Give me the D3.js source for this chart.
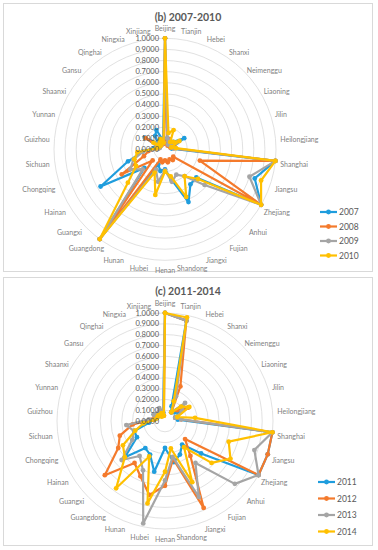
<!DOCTYPE html>
<html>
<head>
<meta charset="utf-8">
<script src="https://cdnjs.cloudflare.com/ajax/libs/d3/7.8.5/d3.min.js"></script>
<style>
  body { margin: 0; background: #fff; }
  svg { font-family: Lato, "Liberation Sans", sans-serif; }
</style>
</head>
<body>
<svg id="chart" width="378" height="550"></svg>
<script>
// ======================================================
// DATA
var provinces = ["Beijing", "Tianjin", "Hebei", "Shanxi", "Neimenggu", "Liaoning", "Jilin",
    "Heilongjiang", "Shanghai", "Jiangsu", "Zhejiang", "Anhui", "Fujian", "Jiangxi", "Shandong",
    "Henan", "Hubei", "Hunan", "Guangdong", "Guangxi", "Hainan", "Chongqing", "Sichuan",
    "Guizhou", "Yunnan", "Shaanxi", "Gansu", "Qinghai", "Ningxia", "Xinjiang"];
var tickValues = [0, 0.1, 0.2, 0.3, 0.4, 0.5, 0.6, 0.7, 0.8, 0.9, 1.0];

var yearsB = ["2007", "2008", "2009", "2010"];
var v2007 = [1.00, 0.10, 0.08, 0.05, 0.10, 0.20, 0.08, 0.06, 1.00, 0.85, 1.00, 0.38, 0.39, 0.52, 0.28,
    0.18, 0.20, 0.15, 1.00, 0.25, 0.67, 0.35, 0.20, 0.10, 0.05, 0.21, 0.08, 0.15, 0.19, 0.08];
var v2008 = [1.00, 0.08, 0.10, 0.04, 0.06, 0.10, 0.05, 0.08, 1.00, 0.33, 1.00, 0.10, 0.12, 0.10, 0.12,
    0.10, 0.12, 0.10, 1.00, 0.15, 0.45, 0.20, 0.15, 0.06, 0.05, 0.20, 0.05, 0.05, 0.10, 0.05];
var v2009 = [1.00, 0.10, 0.08, 0.05, 0.08, 0.12, 0.06, 0.08, 1.00, 0.80, 1.00, 0.48, 0.30, 0.25, 0.30,
    0.19, 0.30, 0.20, 1.00, 0.27, 0.36, 0.30, 0.20, 0.06, 0.05, 0.10, 0.05, 0.05, 0.10, 0.06];
var v2010 = [1.00, 0.15, 0.19, 0.08, 0.10, 0.15, 0.06, 0.10, 1.00, 0.91, 1.00, 0.40, 0.30, 0.47, 0.25,
    0.20, 0.42, 0.23, 1.00, 0.45, 0.30, 0.29, 0.25, 0.08, 0.06, 0.12, 0.05, 0.08, 0.10, 0.06];

var yearsC = ["2011", "2012", "2013", "2014"];
var v2011 = [1.00, 0.95, 0.15, 0.10, 0.12, 0.15, 0.10, 0.12, 1.00, 1.00, 1.00, 0.45, 0.27, 0.34, 0.39,
    0.25, 0.48, 0.34, 0.31, 0.50, 0.30, 0.30, 0.15, 0.10, 0.08, 0.12, 0.08, 0.06, 0.10, 0.08];
var v2012 = [1.00, 0.95, 0.35, 0.10, 0.15, 0.25, 0.10, 0.15, 1.00, 1.00, 1.00, 0.25, 0.40, 0.88, 0.36,
    0.60, 0.70, 0.56, 0.48, 0.75, 0.50, 0.44, 0.30, 0.12, 0.10, 0.10, 0.08, 0.06, 0.10, 0.05];
var v2013 = [1.00, 0.95, 0.25, 0.10, 0.25, 0.18, 0.10, 0.15, 1.00, 0.87, 1.00, 0.87, 0.48, 0.77, 0.34,
    0.55, 0.97, 0.50, 0.40, 0.54, 0.35, 0.30, 0.36, 0.15, 0.08, 0.12, 0.10, 0.10, 0.13, 0.08];
var v2014 = [1.00, 0.98, 0.20, 0.10, 0.20, 0.26, 0.12, 0.28, 1.00, 0.62, 0.70, 0.58, 0.30, 0.62, 0.26,
    0.47, 0.78, 0.36, 0.77, 0.50, 0.45, 0.29, 0.20, 0.10, 0.08, 0.08, 0.08, 0.05, 0.08, 0.05];

var colors = ["#1f9ddd", "#f47a2c", "#a5a5a5", "#ffc000"];

var svg = d3.select("#chart");

function drawRadar(cfg) {
    var g = svg.append("g");

    // PANEL
    g.append("rect")
        .attr("x", cfg.box[0]).attr("y", cfg.box[1])
        .attr("width", cfg.box[2]).attr("height", cfg.box[3])
        .attr("fill", "#fff")
        .attr("stroke", "#d9d9d9")
        .attr("stroke-width", 1);

    // TITLE
    g.append("text")
        .attr("x", cfg.box[0] + cfg.box[2] / 2)
        .attr("y", cfg.box[1] + 17)
        .attr("text-anchor", "middle")
        .attr("font-size", "10.5px")
        .attr("font-weight", "bold")
        .attr("fill", "#595959")
        .text(cfg.title);

    var rScale = d3.scaleLinear().domain([0, 1]).range([0, cfg.R]);
    var aScale = d3.scaleLinear().domain([0, provinces.length]).range([0, 2 * Math.PI]);

    var plot = g.append("g")
        .attr("transform", "translate(" + cfg.cx + "," + cfg.cy + ")");

    // gridline rings
    plot.selectAll("circle.grid")
        .data(tickValues.slice(1))
        .enter()
        .append("circle")
        .attr("class", "grid")
        .attr("r", function(d) { return rScale(d); })
        .attr("fill", "none")
        .attr("stroke", "#d9d9d9")
        .attr("stroke-width", 0.8);

    // category labels
    plot.selectAll("text.cat")
        .data(provinces)
        .enter()
        .append("text")
        .attr("class", "cat")
        .attr("font-size", "7px")
        .attr("fill", "#7f7f7f")
        .attr("text-anchor", "middle")
        .attr("dominant-baseline", "central")
        .text(function(d) { return d; })
        .each(function(d, i) {
            var a = aScale(i);
            var p = d3.pointRadial(a, cfg.R + 5);
            var w = this.getComputedTextLength();
            var s = Math.sin(a);
            d3.select(this)
                .attr("x", p[0] + (w / 2) * s)
                .attr("y", p[1] - 5 * Math.cos(a) + 2.5 * s * s);
        });

    // series
    var line = d3.lineRadial()
        .angle(function(d, i) { return aScale(i); })
        .radius(function(d) { return rScale(d); })
        .curve(d3.curveLinearClosed);

    cfg.series.forEach(function(s, k) {
        plot.append("path")
            .datum(s)
            .attr("d", line)
            .attr("fill", "none")
            .attr("stroke", colors[k])
            .attr("stroke-width", 2.2)
            .attr("stroke-linejoin", "round");
        plot.selectAll("circle.m" + k)
            .data(s)
            .enter()
            .append("circle")
            .attr("class", "m" + k)
            .attr("cx", function(d, i) { return d3.pointRadial(aScale(i), rScale(d))[0]; })
            .attr("cy", function(d, i) { return d3.pointRadial(aScale(i), rScale(d))[1]; })
            .attr("r", 2.4)
            .attr("fill", colors[k]);
    });

    // tick labels along the first spoke
    plot.selectAll("text.tick")
        .data(tickValues)
        .enter()
        .append("text")
        .attr("class", "tick")
        .attr("x", -6)
        .attr("y", function(d) { return -rScale(d); })
        .attr("text-anchor", "end")
        .attr("dominant-baseline", "central")
        .attr("font-size", "7.5px")
        .attr("fill", "#595959")
        .text(function(d) { return d.toFixed(4); });

    // LEGEND
    var leg = g.selectAll("g.leg")
        .data(cfg.years)
        .enter()
        .append("g")
        .attr("transform", function(d, i) {
            return "translate(" + cfg.legX + "," + (cfg.legY + i * cfg.legStep) + ")";
        });
    leg.append("line")
        .attr("x1", 0).attr("x2", 17)
        .attr("stroke", function(d, i) { return colors[i]; })
        .attr("stroke-width", 2.2);
    leg.append("circle")
        .attr("cx", 8.5).attr("r", 2.4)
        .attr("fill", function(d, i) { return colors[i]; });
    leg.append("text")
        .attr("x", 19)
        .attr("dominant-baseline", "central")
        .attr("font-size", "8.5px")
        .attr("fill", "#595959")
        .text(function(d) { return d; });
}

drawRadar({
    box: [3.5, 3.5, 369, 268], title: "(b) 2007-2010",
    cx: 165, cy: 149.3, R: 111,
    series: [v2007, v2008, v2009, v2010], years: yearsB,
    legX: 320, legY: 212, legStep: 14.5
});

drawRadar({
    box: [3.5, 277.5, 369, 268], title: "(c) 2011-2014",
    cx: 165, cy: 421, R: 108,
    series: [v2011, v2012, v2013, v2014], years: yearsC,
    legX: 318, legY: 482, legStep: 16.5
});
</script>
</body>
</html>
